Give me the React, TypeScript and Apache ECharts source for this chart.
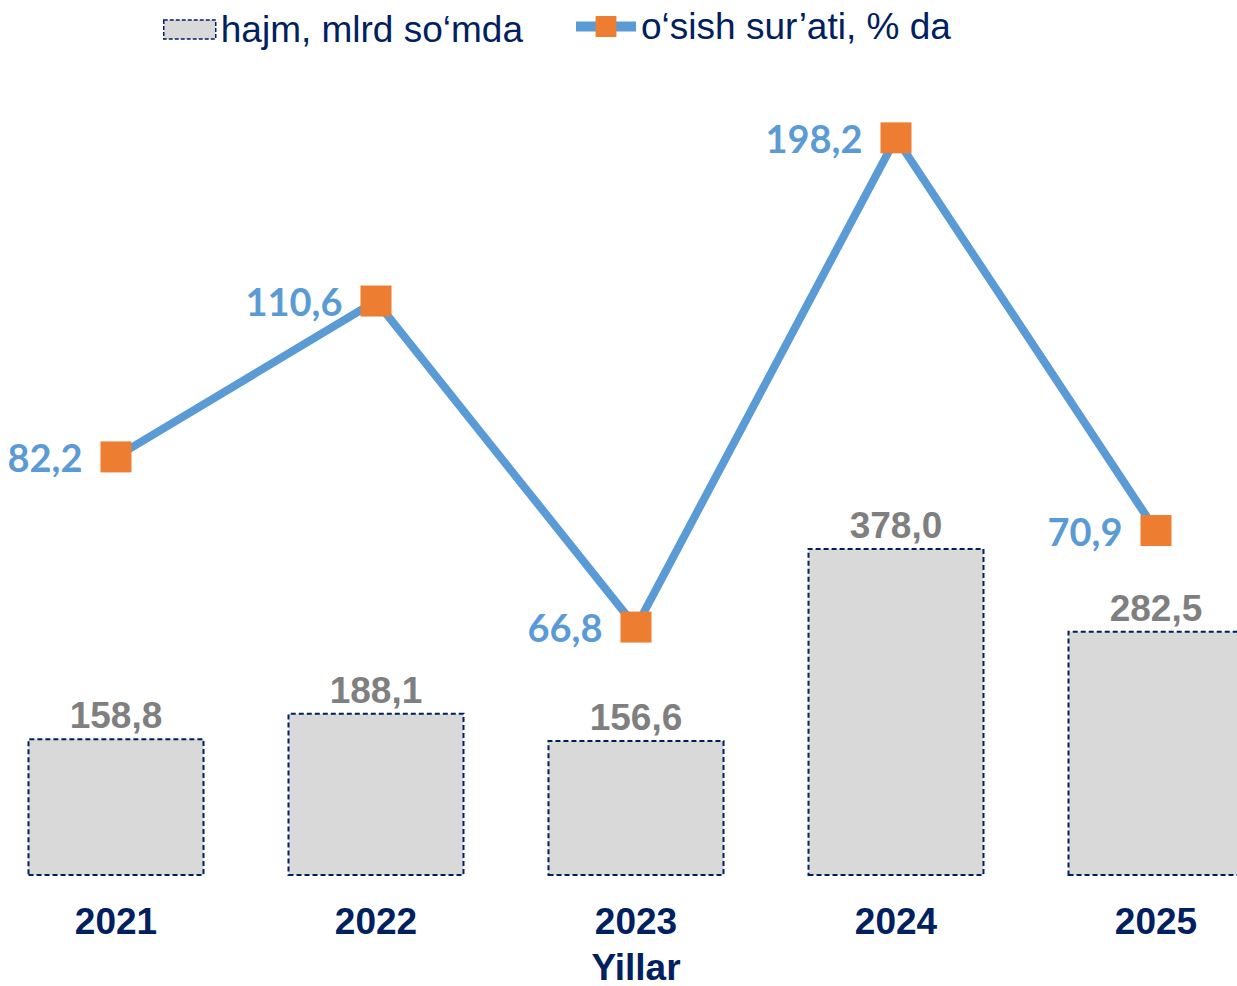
import React, { useEffect, useRef } from "react";
import * as echarts from "echarts";

const years = ["2021", "2022", "2023", "2024", "2025"];
// hajm, mlrd so'mda
const volume = [158.8, 188.1, 156.6, 378.0, 282.5];
// o'sish sur'ati, % da (labels as printed)
const growthRate = [82.2, 110.6, 66.8, 198.2, 70.9];
// heights at which the source chart draws the growth markers (secondary axis units)
const growthPlotLevel = [120.7, 165.6, 71.7, 212.6, 99.5];

const fmt = (v: number) => v.toFixed(1).replace(".", ",");

const NAVY = "#002060";
const GRAY_TEXT = "#7f7f7f";
const BLUE = "#5b9bd5";
const ORANGE = "#ed7d31";
const ARIAL = "Liberation Sans, Arial, sans-serif";

const BAR_NAME = "hajm, mlrd so‘mda";
const LINE_NAME = "o‘sish sur’ati, % da";

export default function App() {
  const ref = useRef<HTMLDivElement>(null);
  useEffect(() => {
    if (!ref.current) return;
    const chart = echarts.init(ref.current, null, { renderer: "svg" });
    const legendText = {
      fontFamily: ARIAL,
      fontSize: 37,
      color: NAVY,
    };
    chart.setOption({
      animation: false,
      backgroundColor: "#ffffff",
      legend: [
        {
          left: 158,
          top: 6,
          padding: [5, 5, 5, 5],
          itemWidth: 52,
          itemHeight: 19,
          textStyle: legendText,
          data: [
            {
              name: BAR_NAME,
              icon: "rect",
              itemStyle: {
                color: "#d9d9d9",
                borderColor: NAVY,
                borderWidth: 1.5,
                borderType: [4, 2],
              },
            },
          ],
        },
        {
          left: 566,
          top: 3,
          padding: [5, 5, 5, 5],
          itemWidth: 60,
          itemHeight: 26,
          textStyle: legendText,
          data: [
            {
              name: LINE_NAME,
              lineStyle: { color: BLUE, width: 10 },
            },
          ],
        },
      ],
      grid: {
        left: -14,
        right: -49,
        top: 8,
        bottom: 110,
        containLabel: false,
        outerBoundsMode: "none",
      },
      xAxis: {
        type: "category",
        data: years,
        axisLine: { show: false },
        axisTick: { show: false },
        axisLabel: {
          margin: 27,
          fontFamily: ARIAL,
          fontSize: 37,
          fontWeight: "bold",
          color: NAVY,
        },
        name: "Yillar",
        nameLocation: "middle",
        nameGap: 73,
        nameTextStyle: {
          fontFamily: ARIAL,
          fontSize: 37,
          lineHeight: 36,
          fontWeight: "bold",
          color: NAVY,
        },
      },
      yAxis: [
        { type: "value", min: 0, max: 1000, show: false, splitLine: { show: false } },
        { type: "value", min: 0, max: 250, show: false, splitLine: { show: false } },
      ],
      series: [
        {
          name: BAR_NAME,
          type: "bar",
          yAxisIndex: 0,
          barWidth: 177,
          data: volume,
          itemStyle: {
            color: "#d9d9d9",
            borderColor: NAVY,
            borderWidth: 2,
            borderType: [5, 3],
          },
          label: {
            show: true,
            position: "top",
            distance: 4,
            formatter: (p: any) => fmt(volume[p.dataIndex]),
            fontFamily: ARIAL,
            fontSize: 37,
            fontWeight: "bold",
            color: GRAY_TEXT,
          },
          z: 1,
        },
        {
          name: LINE_NAME,
          type: "line",
          yAxisIndex: 1,
          data: growthPlotLevel,
          symbol: "rect",
          symbolSize: 31,
          lineStyle: { color: BLUE, width: 8 },
          itemStyle: { color: ORANGE, borderWidth: 0 },
          label: {
            show: true,
            position: "left",
            distance: 18,
            formatter: (p: any) => fmt(growthRate[p.dataIndex]),
            fontFamily: "Lato, Noto Sans, sans-serif",
            fontSize: 38,
            fontWeight: "bold",
            color: BLUE,
          },
          z: 3,
        },
      ],
    });
    return () => chart.dispose();
  }, []);
  return (
    <div
      ref={ref}
      style={{ position: "absolute", left: 0, top: 0, width: 1237, height: 986 }}
    />
  );
}
